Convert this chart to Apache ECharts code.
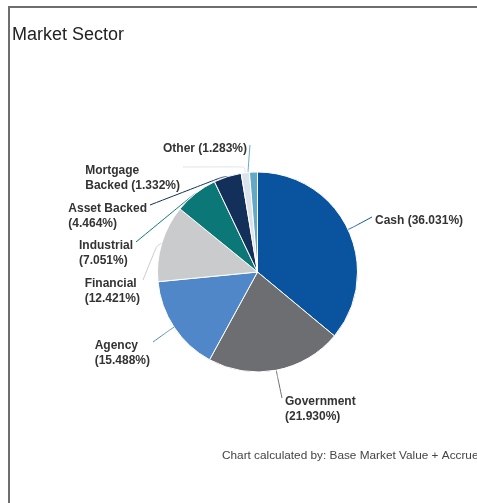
<!DOCTYPE html>
<html>
<head>
<meta charset="utf-8">
<script src="https://cdn.jsdelivr.net/npm/echarts@6/dist/echarts.min.js"></script>
<style>
html,body{margin:0;padding:0;background:#fff;overflow:hidden;}
#frame{position:absolute;left:8px;top:6px;width:500px;height:520px;border-left:2px solid #6e6e6e;border-top:2px solid #6e6e6e;}
#chart{position:absolute;left:0;top:0;width:477px;height:503px;}
</style>
</head>
<body>
<div id="frame"></div>
<div id="chart"></div>
<script>
// ---- data ----
const categories = ['Cash', 'Government', 'Agency', 'Financial', 'Industrial', 'Asset Backed', 'Mortgage Backed', 'Other'];
const values = [36.031, 21.930, 15.488, 12.421, 7.051, 4.464, 1.332, 1.283];
const labelLines = [
  ['Cash (36.031%)'],
  ['Government', '(21.930%)'],
  ['Agency', '(15.488%)'],
  ['Financial', '(12.421%)'],
  ['Industrial', '(7.051%)'],
  ['Asset Backed', '(4.464%)'],
  ['Mortgage', 'Backed (1.332%)'],
  ['Other (1.283%)']
];
const titleText = 'Market Sector';
const footnote = 'Chart calculated by: Base Market Value + Accrued Interest';

// ---- styles / layout ----
const sliceColors = ['#0a539e', '#6d6e71', '#4f87c9', '#cacbcd', '#0b7776', '#12305a', '#dde3ea', '#62a9c6'];
// label box anchor: [x, y, side]; side 'l' = text starts at x, 'r' = text ends at x; y = top of text block
const labelBoxes = [
  [375, 213, 'l'],
  [285, 394, 'l'],
  [150, 338, 'r'],
  [140, 276, 'r'],
  [133, 238, 'r'],
  [147, 201, 'r'],
  [180, 163, 'r'],
  [247, 141, 'r']
];

const chart = echarts.init(document.getElementById('chart'), null, {renderer: 'canvas'});

const data = categories.map((c, i) => ({name: c, value: values[i], itemStyle: {color: sliceColors[i]}}));

chart.setOption({
  animation: false,
  backgroundColor: 'transparent',
  title: [{
    text: titleText,
    left: 7, top: 21,
    textStyle: {fontFamily: 'Liberation Sans, Arial', fontSize: 18, fontWeight: 'normal', color: '#222'}
  }, {
    text: footnote,
    left: 217, top: 445,
    textStyle: {fontFamily: 'Liberation Sans, Arial', fontSize: 11.8, fontWeight: 'normal', color: '#444'}
  }],
  series: [{
    type: 'pie',
    center: [257.5, 272],
    radius: 100,
    startAngle: 90,
    clockwise: true,
    data: data,
    itemStyle: {borderColor: '#fff', borderWidth: 1},
    label: {
      show: true,
      position: 'outside',
      formatter: p => labelLines[p.dataIndex].map(s => '{a|' + s + '}').join('\n'),
      rich: {a: {align: 'left', fontFamily: 'Liberation Sans, Arial', fontSize: 12, fontWeight: 'bold', color: '#333', lineHeight: 15}}
    },
    labelLine: {show: true, length: 20, length2: 5, smooth: 0.2, lineStyle: {width: 1}},
    labelLayout: function (params) {
      const i = params.dataIndex;
      const box = labelBoxes[i];
      const pts = params.labelLinePoints;
      const p0 = pts[0], p1 = pts[1];
      const dx = p1[0] - p0[0], dy = p1[1] - p0[1];
      const len = Math.sqrt(dx * dx + dy * dy) || 1;
      const mid = [p0[0] + dx / len * 6, p0[1] + dy / len * 6];
      const end = box[2] === 'l' ? [box[0] - 3, box[1] + 4] : [box[0] + 3, box[1] + 4];
      return {
        x: box[0],
        y: box[1],
        align: box[2] === 'l' ? 'left' : 'right',
        verticalAlign: 'top',
        labelLinePoints: [p0, mid, end]
      };
    }
  }]
});
</script>
</body>
</html>
